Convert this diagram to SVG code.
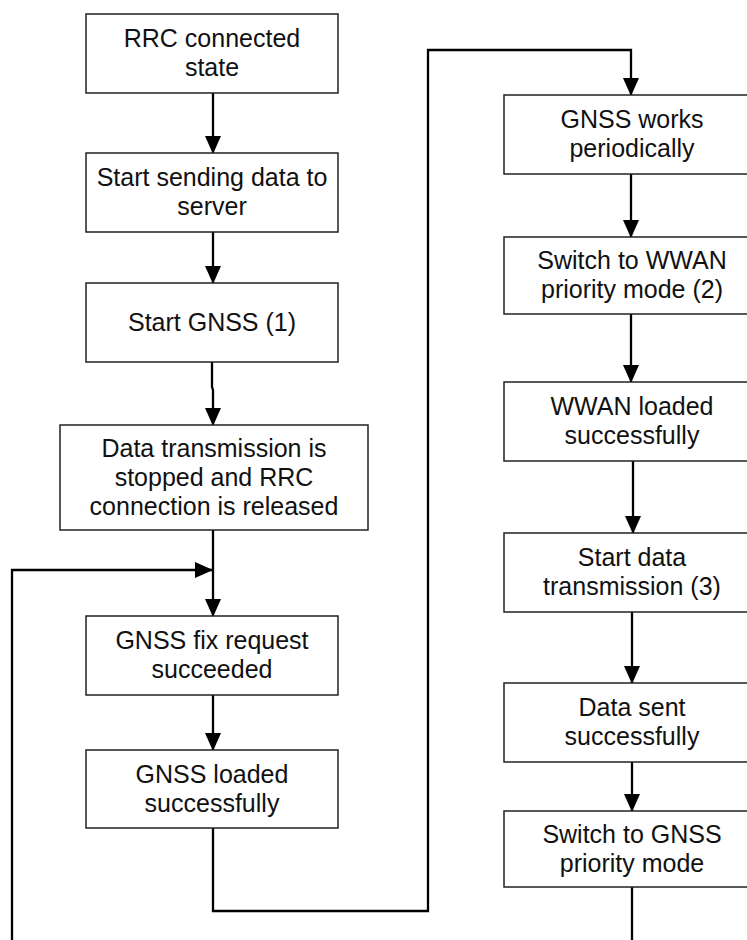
<svg xmlns="http://www.w3.org/2000/svg" width="747" height="940" viewBox="0 0 747 940">
<style>
.box{fill:#fff;stroke:#222;stroke-width:1.5}
.t{font-family:"Liberation Sans",Arial,sans-serif;font-size:25px;fill:#111;text-anchor:middle}
.c{fill:none;stroke:#000;stroke-width:2.3}
</style>
<defs>
<marker id="ah" markerUnits="userSpaceOnUse" markerWidth="18" markerHeight="16" refX="17" refY="8" orient="auto">
<path d="M0,0 L18,8 L0,16 z" fill="#000"/>
</marker>
</defs>
<rect width="747" height="940" fill="#fff"/>
<g id="connectors">
<path class="c" d="M213,93 V153" marker-end="url(#ah)"/>
<path class="c" d="M213,232 V283" marker-end="url(#ah)"/>
<path class="c" d="M212,362 V387 L213,390 V425" marker-end="url(#ah)"/>
<path class="c" d="M213,530 V616" marker-end="url(#ah)"/>
<path class="c" d="M12,940 V570 H212" marker-end="url(#ah)"/>
<path class="c" d="M213,695 V750" marker-end="url(#ah)"/>
<path class="c" d="M213,828 V911 H428 V50 H631 V95" marker-end="url(#ah)"/>
<path class="c" d="M631,174 V237" marker-end="url(#ah)"/>
<path class="c" d="M631,314 V382" marker-end="url(#ah)"/>
<path class="c" d="M633,461 V533" marker-end="url(#ah)"/>
<path class="c" d="M632,612 V683" marker-end="url(#ah)"/>
<path class="c" d="M632,762 V811" marker-end="url(#ah)"/>
<path class="c" d="M632,887 V940"/>
</g>
<g id="n1"><rect class="box" x="86" y="14" width="252" height="79"/><text class="t" x="212" y="47">RRC connected</text><text class="t" x="212" y="76">state</text></g>
<g id="n2"><rect class="box" x="86" y="153" width="252" height="79"/><text class="t" x="212" y="186">Start sending data to</text><text class="t" x="212" y="215">server</text></g>
<g id="n3"><rect class="box" x="86" y="283" width="252" height="79"/><text class="t" x="212" y="331">Start GNSS (1)</text></g>
<g id="n4"><rect class="box" x="60" y="425" width="308" height="105"/><text class="t" x="214" y="457">Data transmission is</text><text class="t" x="214" y="486">stopped and RRC</text><text class="t" x="214" y="515">connection is released</text></g>
<g id="n5"><rect class="box" x="86" y="616" width="252" height="79"/><text class="t" x="212" y="649">GNSS fix request</text><text class="t" x="212" y="678">succeeded</text></g>
<g id="n6"><rect class="box" x="86" y="750" width="252" height="78"/><text class="t" x="212" y="783">GNSS loaded</text><text class="t" x="212" y="812">successfully</text></g>
<g id="n7"><rect class="box" x="504" y="95" width="256" height="79"/><text class="t" x="632" y="128">GNSS works</text><text class="t" x="632" y="157">periodically</text></g>
<g id="n8"><rect class="box" x="504" y="237" width="256" height="77"/><text class="t" x="632" y="269">Switch to WWAN</text><text class="t" x="632" y="298">priority mode (2)</text></g>
<g id="n9"><rect class="box" x="504" y="382" width="256" height="79"/><text class="t" x="632" y="415">WWAN loaded</text><text class="t" x="632" y="444">successfully</text></g>
<g id="n10"><rect class="box" x="504" y="533" width="256" height="79"/><text class="t" x="632" y="566">Start data</text><text class="t" x="632" y="595">transmission (3)</text></g>
<g id="n11"><rect class="box" x="504" y="683" width="256" height="79"/><text class="t" x="632" y="716">Data sent</text><text class="t" x="632" y="745">successfully</text></g>
<g id="n12"><rect class="box" x="504" y="811" width="256" height="76"/><text class="t" x="632" y="843">Switch to GNSS</text><text class="t" x="632" y="872">priority mode</text></g>
</svg>
